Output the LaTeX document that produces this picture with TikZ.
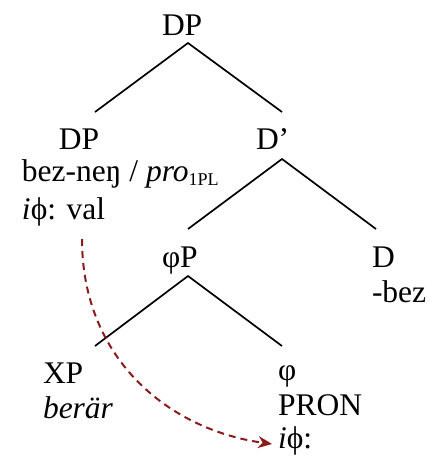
\documentclass[tikz,border=0pt]{standalone}
\usepackage{fontspec}
\setmainfont{Liberation Serif}
\usetikzlibrary{arrows.meta}
\definecolor{linkred}{HTML}{8B1A1A}
\newcommand{\subsc}[1]{\raisebox{-4pt}{\fontsize{18}{18}\selectfont #1}}
\begin{document}
\begin{tikzpicture}[x=1pt,y=1pt,
  lbl/.style={anchor=base west,inner sep=0pt,outer sep=0pt,font=\fontsize{31.5}{37}\selectfont},
  branch/.style={line width=1.7pt,line join=miter},
  agree/.style={linkred,line width=2pt,dash pattern=on 7pt off 5pt,-{Stealth[length=14pt,width=12pt]}}]
\useasboundingbox (0,0) rectangle (439,-459);

% labels
\node[lbl] (dpRoot) at (162,-35) {DP};
\node[lbl] (dpSpec) at (59,-149) {DP};
\node[lbl] (dpForm) at (22,-181) {bez-neŋ / \textit{pro}\subsc{1PL}};
\node[lbl] (dpFeat) at (22,-219) {\textit{i}ϕ: val};
\node[lbl] (dBar) at (256,-149) {D’};
\node[lbl] (phiP) at (162,-267) {φP};
\node[lbl] (dHead) at (372,-267) {D};
\node[lbl] (dForm) at (372,-302) {-bez};
\node[lbl] (xp) at (43,-383) {XP};
\node[lbl] (xpForm) at (43,-418) {\textit{berär}};
\node[lbl] (phiHead) at (278,-380) {φ};
\node[lbl] (phiForm) at (278,-415) {PRON};
\node[lbl] (phiFeat) at (278,-448) {\textit{i}ϕ:};

% branch points
\coordinate (rootTop) at (188,-43);
\coordinate (rootL) at (95,-112);
\coordinate (rootR) at (282,-112);
\coordinate (dbarTop) at (282,-159);
\coordinate (dbarL) at (188,-229);
\coordinate (dbarR) at (376,-229);
\coordinate (phiTop) at (188,-276);
\coordinate (phiL) at (95,-346);
\coordinate (phiR) at (282,-346);

\draw[branch] (rootL) -- (rootTop) -- (rootR);
\draw[branch] (dbarL) -- (dbarTop) -- (dbarR);
\draw[branch] (phiL) -- (phiTop) -- (phiR);

% agreement link
\coordinate (agreeFrom) at (82,-239);
\coordinate (agreeTo) at (272,-444);
\draw[agree] (agreeFrom) .. controls (82,-360) and (170,-430) .. (agreeTo);
\end{tikzpicture}
\end{document}
